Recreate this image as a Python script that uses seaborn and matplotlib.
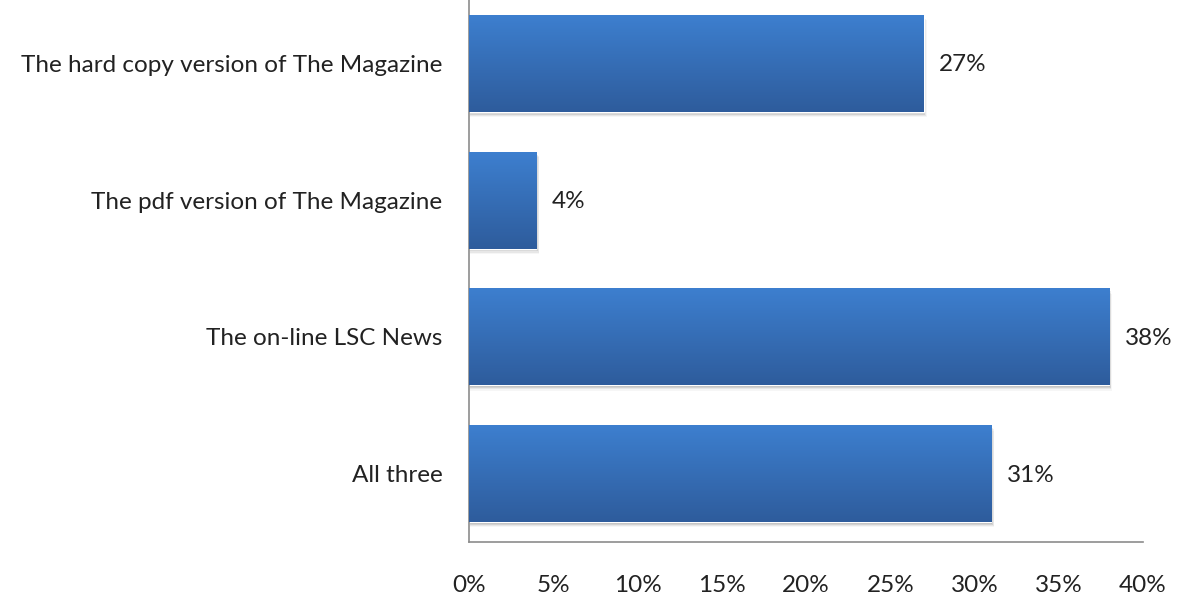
import numpy as np
import pandas as pd
import matplotlib
matplotlib.use("Agg")
import matplotlib.pyplot as plt
from matplotlib.patches import Rectangle
from matplotlib.colors import LinearSegmentedColormap
from matplotlib.ticker import PercentFormatter
import seaborn as sns

categories = [
    "The hard copy version of The Magazine",
    "The pdf version of The Magazine",
    "The on-line LSC News",
    "All three",
]
shares = [27, 4, 38, 31]
x_ticks = [0, 5, 10, 15, 20, 25, 30, 35, 40]

df = pd.DataFrame({"category": categories, "share": shares})

sns.set_theme(style="white")
plt.rcParams["font.family"] = ["Lato", "DejaVu Sans"]

fig = plt.figure(figsize=(11.85, 5.97), dpi=100, facecolor="white")
ax = fig.add_axes([469 / 1185, 1 - 542 / 597, (1143 - 469) / 1185, (542 + 5) / 597])

sns.barplot(data=df, x="share", y="category", orient="h", width=0.708,
            color="#3671BC", ax=ax, zorder=2)

ax.set_xlim(0, 40)
ax.set_ylim(3.5, -0.5)

# Vertical gradient and soft drop shadow on each bar
grad = LinearSegmentedColormap.from_list("barfill", ["#3D7FCF", "#2E5C9C"])
gimg = np.linspace(0, 1, 256).reshape(-1, 1)
for patch in list(ax.patches):
    x0, y0 = patch.get_x(), patch.get_y()
    w, h = patch.get_width(), patch.get_height()
    for k, a in enumerate([0.12, 0.09, 0.06, 0.035]):
        off = 0.012 + 0.009 * k
        ax.add_patch(Rectangle((x0 + 0.05, y0 + off), w + 0.04 * k, h,
                               facecolor="black", alpha=a, linewidth=0, zorder=1))
    im = ax.imshow(gimg, cmap=grad, aspect="auto",
                   extent=[x0, x0 + w, y0 + h, y0], zorder=3)
    im.set_clip_path(patch)
    ax.set_xlim(0, 40)
    ax.set_ylim(3.5, -0.5)

for i, v in enumerate(shares):
    ax.annotate(f"{v}%", xy=(v, i), xytext=(11, -1), textcoords="offset points",
                ha="left", va="center", fontsize=17.5, color="#222222")

ax.set_xticks(x_ticks)
ax.xaxis.set_major_formatter(PercentFormatter(decimals=0))
ax.tick_params(axis="x", length=0, pad=24, labelsize=17.5, labelcolor="#222222")
ax.tick_params(axis="y", length=0, pad=19, labelsize=17.5, labelcolor="#222222")
ax.set_xlabel("")
ax.set_ylabel("")

for side in ["top", "right"]:
    ax.spines[side].set_visible(False)
for side in ["left", "bottom"]:
    ax.spines[side].set_color("#8C8C8C")
    ax.spines[side].set_linewidth(1.2)

fig.savefig("out.png", dpi=100, facecolor="white")
